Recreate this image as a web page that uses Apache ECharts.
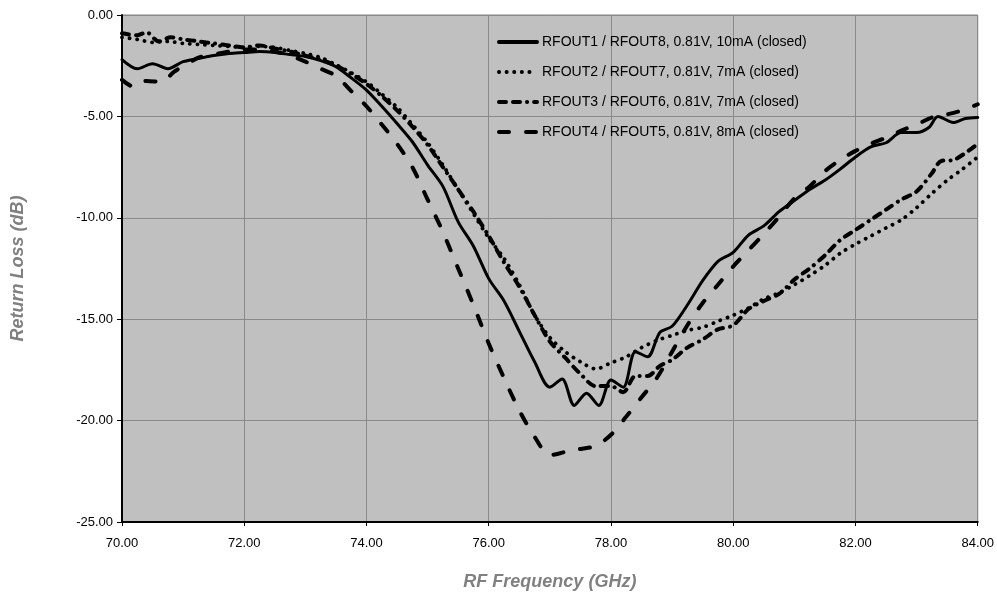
<!DOCTYPE html>
<html>
<head>
<meta charset="utf-8">
<script src="https://cdn.jsdelivr.net/npm/echarts@6/dist/echarts.min.js"></script>
<style>html,body{margin:0;padding:0;background:#fff;}#c{width:997px;height:596px;}</style>
</head>
<body>
<div id="c"></div>
<script>
var seriesNames = [
  'RFOUT1 / RFOUT8, 0.81V, 10mA (closed)',
  'RFOUT2 / RFOUT7, 0.81V, 7mA (closed)',
  'RFOUT3 / RFOUT6, 0.81V, 7mA (closed)',
  'RFOUT4 / RFOUT5, 0.81V, 8mA (closed)'
];
var xTicks = [70, 72, 74, 76, 78, 80, 82, 84];
var yTicks = [0, -5, -10, -15, -20, -25];

var freq1 = [70.0,70.25,70.5,70.75,71.0,71.25,71.5,71.75,72.0,72.25,72.5,72.75,73.0,73.25,73.5,73.75,74.0,74.25,74.5,74.75,75.0,75.25,75.5,75.75,76.0,76.25,76.5,76.75,77.0,77.2,77.4,77.6,77.8,78.0,78.2,78.4,78.6,78.8,79.0,79.25,79.5,79.75,80.0,80.25,80.5,80.75,81.0,81.25,81.5,81.75,82.0,82.25,82.5,82.75,83.0,83.2,83.35,83.6,83.8,84.0];
var rl1 = [-2.2,-2.65,-2.4,-2.65,-2.3,-2.15,-2.0,-1.9,-1.85,-1.8,-1.85,-1.95,-2.05,-2.25,-2.55,-3.1,-3.7,-4.5,-5.35,-6.25,-7.4,-8.45,-10.2,-11.4,-13.0,-14.1,-15.6,-17.1,-18.35,-17.95,-19.25,-18.65,-19.25,-18.0,-18.35,-16.6,-16.85,-15.65,-15.35,-14.3,-13.1,-12.15,-11.7,-10.85,-10.4,-9.7,-9.15,-8.6,-8.15,-7.6,-7.0,-6.5,-6.3,-5.8,-5.8,-5.55,-5.0,-5.3,-5.1,-5.05];

var freq2 = [70.0,70.25,70.5,70.75,71.0,71.25,71.5,71.75,72.0,72.25,72.5,72.75,73.0,73.25,73.5,73.75,74.0,74.25,74.5,74.75,75.0,75.25,75.5,75.75,76.0,76.25,76.5,76.75,77.0,77.25,77.5,77.75,78.0,78.25,78.5,78.75,79.0,79.25,79.5,79.75,80.0,80.25,80.5,80.75,81.0,81.25,81.5,81.75,82.0,82.25,82.5,82.75,83.0,83.25,83.5,83.75,84.0];
var rl2 = [-1.1,-1.2,-1.35,-1.3,-1.4,-1.45,-1.5,-1.55,-1.6,-1.55,-1.6,-1.75,-1.9,-2.1,-2.45,-2.85,-3.3,-3.9,-4.55,-5.4,-6.3,-7.4,-8.6,-9.8,-11.0,-12.0,-13.3,-14.8,-15.9,-16.6,-17.1,-17.45,-17.15,-16.85,-16.4,-16.05,-15.8,-15.55,-15.4,-15.1,-14.8,-14.45,-14.0,-13.7,-13.3,-12.85,-12.35,-11.75,-11.3,-10.9,-10.5,-10.1,-9.5,-8.8,-8.15,-7.6,-7.0];

var freq3 = [70.0,70.25,70.4,70.6,70.8,71.0,71.25,71.5,71.75,72.0,72.25,72.5,72.75,73.0,73.25,73.5,73.75,74.0,74.25,74.5,74.75,75.0,75.25,75.5,75.75,76.0,76.25,76.5,76.75,77.0,77.25,77.5,77.75,78.0,78.2,78.4,78.6,78.8,79.0,79.25,79.5,79.75,80.0,80.25,80.5,80.75,81.0,81.25,81.5,81.75,82.0,82.25,82.5,82.75,83.0,83.25,83.4,83.6,83.8,84.0];
var rl3 = [-0.9,-1.0,-0.85,-1.3,-1.1,-1.2,-1.3,-1.4,-1.5,-1.6,-1.5,-1.65,-1.8,-2.0,-2.2,-2.5,-2.9,-3.4,-4.0,-4.7,-5.5,-6.4,-7.5,-8.6,-9.7,-10.9,-12.2,-13.4,-14.8,-16.1,-16.9,-17.7,-18.3,-18.3,-18.6,-17.8,-17.8,-17.3,-17.0,-16.4,-16.0,-15.5,-15.3,-14.5,-14.1,-13.75,-13.05,-12.5,-11.85,-11.1,-10.6,-10.1,-9.6,-9.1,-8.7,-7.8,-7.2,-7.15,-6.8,-6.35];

var freq4 = [70.0,70.2,70.4,70.65,70.85,71.05,71.25,71.5,71.75,72.0,72.25,72.5,72.75,73.0,73.25,73.5,73.75,74.0,74.25,74.5,74.75,75.0,75.25,75.5,75.75,76.0,76.25,76.5,76.75,77.0,77.25,77.5,77.75,78.0,78.25,78.5,78.75,79.0,79.25,79.5,79.75,80.0,80.25,80.5,80.75,81.0,81.25,81.5,81.75,82.0,82.25,82.5,82.75,83.0,83.25,83.5,83.75,84.0];
var rl4 = [-3.2,-3.55,-3.25,-3.3,-2.8,-2.45,-2.1,-1.95,-1.8,-1.7,-1.7,-1.8,-2.0,-2.3,-2.65,-3.0,-3.75,-4.5,-5.4,-6.35,-7.5,-9.1,-10.7,-12.5,-14.3,-16.2,-17.9,-19.5,-20.8,-21.7,-21.55,-21.4,-21.25,-20.7,-19.8,-18.85,-17.9,-16.6,-15.3,-14.2,-13.3,-12.4,-11.6,-10.8,-9.95,-9.05,-8.45,-7.7,-7.15,-6.7,-6.35,-6.05,-5.7,-5.4,-5.05,-4.9,-4.7,-4.4];

function pairs(xs, ys) { return xs.map(function (x, i) { return [x, ys[i]]; }); }

var styles = [
  { width: 3, type: 'solid', cap: 'round' },
  { width: 3.8, type: [0.1, 7.5], cap: 'round' },
  { width: 4, type: [7, 7, 7, 7, 0.1, 7], cap: 'round' },
  { width: 4, type: [10, 17], cap: 'round' }
];
var datasets = [pairs(freq1, rl1), pairs(freq2, rl2), pairs(freq3, rl3), pairs(freq4, rl4)];

var chart = echarts.init(document.getElementById('c'), null, { renderer: 'canvas' });
chart.setOption({
  animation: false,
  backgroundColor: '#ffffff',
  textStyle: { fontFamily: 'Liberation Sans, Arial, sans-serif' },
  grid: {
    left: 122, right: 19, top: 15, bottom: 73,
    show: true, backgroundColor: '#c0c0c0', borderColor: '#808080', borderWidth: 1
  },
  legend: {
    orient: 'vertical', left: 492, top: 30, itemGap: 16,
    itemWidth: 38, itemHeight: 14,
    itemStyle: { opacity: 0 },
    lineStyle: { width: 4 },
    textStyle: { fontSize: 14, color: '#000', fontFamily: 'Liberation Sans, Arial, sans-serif' },
    data: seriesNames
  },
  xAxis: {
    type: 'value', min: 70, max: 84, interval: 2,
    name: 'RF Frequency (GHz)', nameLocation: 'middle', nameGap: 51,
    nameTextStyle: { fontSize: 18, fontWeight: 'bold', fontStyle: 'italic', color: '#808080' },
    axisLine: { show: true, onZero: false, lineStyle: { color: '#000', width: 2 } },
    axisTick: { show: true, length: 4, lineStyle: { color: '#000' } },
    axisLabel: { fontSize: 13, color: '#000', margin: 15, formatter: function (v) { return v.toFixed(2); } },
    splitLine: { show: true, lineStyle: { color: '#8a8a8a', width: 1 } }
  },
  yAxis: {
    type: 'value', min: -25, max: 0, interval: 5,
    name: 'Return Loss (dB)', nameLocation: 'middle', nameGap: 95, nameRotate: 90,
    nameTextStyle: { fontSize: 18, fontWeight: 'bold', fontStyle: 'italic', color: '#808080' },
    axisLine: { show: true, onZero: false, lineStyle: { color: '#000', width: 2 } },
    axisTick: { show: true, length: 5, lineStyle: { color: '#000' } },
    axisLabel: { fontSize: 13, color: '#000', margin: 9, formatter: function (v) { return v.toFixed(2); } },
    splitLine: { show: true, lineStyle: { color: '#8a8a8a', width: 1 } }
  },
  series: seriesNames.map(function (n, i) {
    return {
      name: n, type: 'line', data: datasets[i], symbol: 'none', smooth: 0.3,
      lineStyle: { color: '#000', width: styles[i].width, type: styles[i].type, cap: styles[i].cap },
      itemStyle: { color: '#000' },
      z: 10 - i
    };
  })
});
</script>
</body>
</html>
